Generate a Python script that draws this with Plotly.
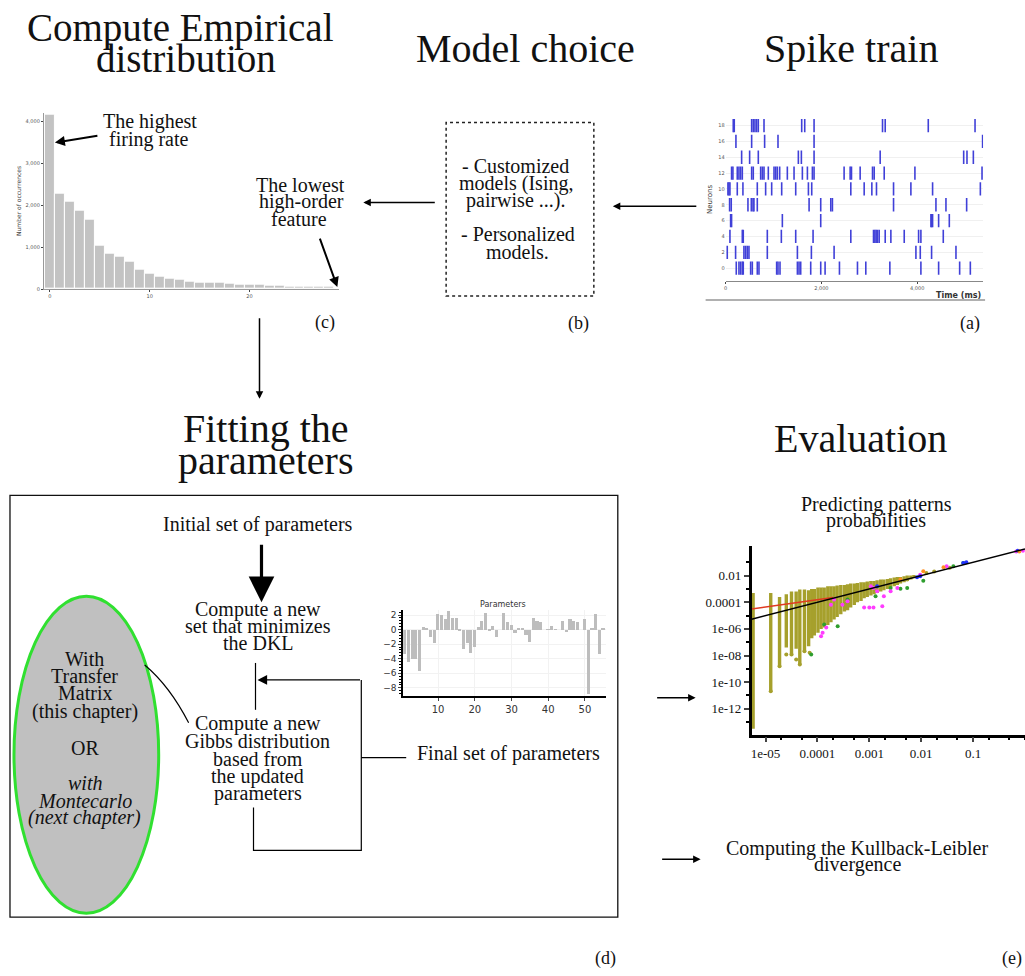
import plotly.graph_objects as go

W, H = 1025, 976
SERIF = "Liberation Serif"
SANS = "DejaVu Sans"

# ---------------- data ----------------
# (c) empirical distribution: number of occurrences per feature rank
feature_rank = list(range(29))
occurrences = [4160, 2270, 2100, 1870, 1660, 1040, 840, 780, 660, 460,
               380, 300, 260, 230, 180, 160, 150, 145, 140, 110,
               110, 100, 90, 75, 70, 65, 60, 60, 55]

# (a) spike train: spike times (ms) per neuron row, bottom row first
neuron_labels = ["0", "2", "4", "6", "8", "10", "12", "14", "16", "18"]
spikes_n0 = [223, 279, 314, 349, 369, 523, 558, 662, 697, 1066, 1094, 1136, 1499, 1533, 1568,
             1777, 1986, 2077, 2377, 2753, 2927, 3429, 4077, 4447, 4886, 5109]
spikes_n1 = [35, 209, 383, 418, 453, 488, 871, 1499, 1791, 2265, 3973, 4064, 4300, 4809]
spikes_n2 = [91, 349, 369, 871, 1164, 1464, 1826, 2614, 3088, 3116, 3143, 3171, 3206, 3332,
             3450, 3729, 4029, 4077, 4544]
spikes_n3 = [105, 125, 1185, 1986, 4287, 4301, 4321, 4447, 4670]
spikes_n4 = [84, 118, 467, 537, 572, 592, 662, 1743, 1986, 2196, 2230, 3506, 4391, 4600, 5032]
spikes_n5 = [49, 70, 91, 244, 362, 662, 836, 962, 1171, 1464, 1729, 1798, 2614, 2893, 3053,
             3150, 3506, 3868, 4321, 5318]
spikes_n6 = [125, 153, 244, 279, 314, 349, 544, 578, 732, 767, 802, 892, 1011, 1046, 1080,
             1129, 1289, 1429, 1603, 1708, 1812, 1847, 2474, 2600, 2628, 2809, 3067, 3102,
             3311, 3952, 5353]
spikes_n7 = [335, 502, 683, 1519, 1582, 1847, 3227, 4970, 5039, 5172]
spikes_n8 = [216, 544, 815, 1094, 1847, 5365]
spikes_n9 = [160, 181, 544, 578, 613, 648, 683, 802, 1589, 1652, 1847, 3276, 3332, 4231, 5207]

# (d) fitted parameter values
param_index = list(range(1, 56))
param_values = [-3.4, -4.5, -4.1, -4.1, -5.7, 0.3, 0.2, -1.0, -1.8, 2.1,
                2.0, 1.4, 2.5, 1.6, 1.6, -0.1, -2.7, -1.8, -3.2, -2.4,
                0.4, 1.2, 2.3, -0.2, 0.5, -1.0, 0.0, 2.2, 1.0, 0.6,
                -0.5, 0.2, 0.2, -0.7, -1.7, 1.6, 1.2, 1.0, 0.0, -0.05,
                0.5, 0.05, 0.0, 1.2, -0.4, 1.4, 1.2, 1.0, 0.0, 1.4,
                -8.8, 0.15, 2.1, -3.3, 0.2]

# (e) predicted vs empirical pattern probabilities (log10 units)
col_logx = [-5.24, -4.90, -4.73, -4.60, -4.50, -4.41, -4.34, -4.25, -4.17, -4.11,
            -4.06, -3.99, -3.93, -3.87, -3.80, -3.74, -3.68, -3.62, -3.55, -3.48,
            -3.42, -3.36, -3.29, -3.23, -3.16, -3.10, -3.04, -2.97, -2.91, -2.85,
            -2.78, -2.72, -2.65, -2.59, -2.52, -2.46, -2.40, -2.33, -2.27, -2.20, -2.14]
col_top = [-3.3, -3.3, -3.6, -3.4, -3.2, -3.2, -3.05, -3.05, -3.1, -3.0,
           -3.0, -2.9, -2.9, -2.9, -2.8, -2.8, -2.8, -2.75, -2.7, -2.7,
           -2.65, -2.6, -2.6, -2.55, -2.5, -2.5, -2.45, -2.4, -2.4, -2.35,
           -2.3, -2.3, -2.25, -2.2, -2.15, -2.1, -2.1, -2.05, -2.0, -2.0, -1.95]
col_bottom = [-13.5, -10.7, -8.8, -7.4, -8.0, -7.5, -8.7, -7.7, -7.3, -6.7,
              -6.5, -6.3, -6.0, -5.9, -5.7, -5.5, -5.3, -5.1, -4.9, -4.7,
              -4.6, -4.4, -4.2, -4.0, -3.9, -3.7, -3.6, -3.5, -3.4, -3.3,
              -3.2, -3.1, -3.0, -2.9, -2.8, -2.7, -2.6, -2.5, -2.4, -2.3, -2.2]
olive_lx = [-4.90, -4.73, -4.60, -4.50, -4.41, -4.34, -4.25, -4.15, -2.27, -1.90, -1.75, -1.45]
olive_ly = [-10.68, -8.8, -7.93, -7.93, -8.3, -8.68, -7.68, -7.8, -2.3, -1.8, -1.7, -1.4]
magenta_lx = [-3.74, -3.68, -3.90, -3.93, -3.83, -2.97, -2.92, -2.85, -3.10, -3.00, -2.92,
              -2.75, -2.72, -2.02, -1.51, -0.17, -0.04, -3.52, -3.42, -2.59, -2.46]
magenta_ly = [-4.18, -3.80, -6.30, -6.55, -5.90, -2.80, -2.93, -3.18, -4.40, -4.40, -4.40,
              -4.30, -3.55, -1.93, -1.30, -0.18, -0.13, -4.18, -3.93, -3.18, -2.93]
green_lx = [-4.12, -3.61, -3.42, -2.59, -2.40, -2.27, -1.96, -1.38, -1.19, -2.88, -3.87]
green_ly = [-7.93, -5.80, -3.80, -2.93, -2.98, -2.93, -2.38, -1.30, -1.05, -3.55, -5.68]
blue_lx = [-2.02, -1.19, -1.13, -2.85, -2.08, -0.14]
blue_ly = [-2.05, -1.05, -1.00, -2.80, -2.12, -0.13]
orange_lx = [-1.96, -1.57, -2.40, -0.11]
orange_ly = [-1.68, -1.38, -2.30, -0.18]
identity_lx = [-5.27, 0.0]
bound_lx = [-5.27, -3.70]
bound_ly = [-4.51, -3.64]


def pw(v):
    return [10 ** a for a in v]


def X(x):
    return x / W


def Y(y):
    return 1 - y / H


fig = go.Figure()

# histogram of occurrences
fig.add_trace(go.Bar(x=feature_rank, y=occurrences, width=1, xaxis="x", yaxis="y",
                     marker=dict(color="#c3c3c3", line=dict(color="white", width=1))))

# raster plot
rows = [spikes_n0, spikes_n1, spikes_n2, spikes_n3, spikes_n4,
        spikes_n5, spikes_n6, spikes_n7, spikes_n8, spikes_n9]
sx, sy = [], []
for i, times in enumerate(rows):
    for t in times:
        sx += [t, t, None]
        sy += [i - 0.42, i + 0.42, None]
fig.add_trace(go.Scatter(x=sx, y=sy, mode="lines", xaxis="x2", yaxis="y2",
                         line=dict(color="#4040d8", width=1.6)))

# parameter bars
fig.add_trace(go.Bar(x=param_index, y=param_values, xaxis="x3", yaxis="y3", width=0.85,
                     marker=dict(color="#bdbdbd", line=dict(width=0))))

# probability scatter: vertical columns of patterns sharing one empirical value
cx, cy = [], []
for lx, top, bot in zip(col_logx, col_top, col_bottom):
    cx += [10 ** lx, 10 ** lx, None]
    cy += [10 ** top, 10 ** bot, None]
fig.add_trace(go.Scatter(x=cx, y=cy, mode="lines", xaxis="x4", yaxis="y4",
                         line=dict(color="#a6a02c", width=3.4)))
fig.add_trace(go.Scatter(x=pw(olive_lx), y=pw(olive_ly), mode="markers", xaxis="x4", yaxis="y4",
                         marker=dict(color="#a6a02c", size=4)))
fig.add_trace(go.Scatter(x=pw(green_lx), y=pw(green_ly), mode="markers", xaxis="x4", yaxis="y4",
                         marker=dict(color="#2e9e2e", size=4)))
fig.add_trace(go.Scatter(x=pw(magenta_lx), y=pw(magenta_ly), mode="markers", xaxis="x4", yaxis="y4",
                         marker=dict(color="#ff3cff", size=4)))
fig.add_trace(go.Scatter(x=pw(blue_lx), y=pw(blue_ly), mode="markers", xaxis="x4", yaxis="y4",
                         marker=dict(color="#2030ff", size=4)))
fig.add_trace(go.Scatter(x=pw(orange_lx), y=pw(orange_ly), mode="markers", xaxis="x4", yaxis="y4",
                         marker=dict(color="#ff9020", size=4)))
fig.add_trace(go.Scatter(x=pw(bound_lx), y=pw(bound_ly), mode="lines", xaxis="x4", yaxis="y4",
                         line=dict(color="#e03a20", width=1.5)))
fig.add_trace(go.Scatter(x=pw(identity_lx), y=pw(identity_lx), mode="lines", xaxis="x4", yaxis="y4",
                         line=dict(color="black", width=1.5)))

# ---------------- annotations & shapes ----------------
ann = []


def text(s, x, base, size=20, family=SERIF, color="#111", italic=False):
    if italic:
        s = "<i>" + s + "</i>"
    ann.append(dict(text=s, x=X(x), y=Y(base - 0.34 * size), xref="paper", yref="paper",
                    xanchor="center", yanchor="middle", showarrow=False, borderpad=0,
                    font=dict(family=family, size=size, color=color)))


def arrow(hx, hy, tx, ty, width=1.5, size=1.0, head=2):
    ann.append(dict(text="", x=X(hx), y=Y(hy), xref="paper", yref="paper",
                    ax=tx - hx, ay=ty - hy, axref="pixel", ayref="pixel",
                    showarrow=True, arrowhead=head, arrowsize=size, arrowwidth=width,
                    arrowcolor="black", standoff=0, startstandoff=0))


shapes = []


def seg(pts, color="black", width=1.2, dash="solid"):
    d = "M " + " L ".join(f"{X(a):.5f},{Y(b):.5f}" for a, b in pts)
    shapes.append(dict(type="path", path=d, xref="paper", yref="paper",
                       line=dict(color=color, width=width, dash=dash)))


# section titles
text("Compute Empirical", 179, 41, 39)
text("distribution", 184, 72, 39)
text("Model choice", 525, 62, 40)
text("Spike train", 851, 62, 40)
text("Fitting the", 265, 443, 40)
text("parameters", 264, 476, 40)
text("Evaluation", 860, 453, 40)

# histogram notes
text("The highest", 148, 129)
text("firing rate", 147, 147)
arrow(53, 143, 97, 136, width=2)
text("The lowest", 299, 192)
text("high-order", 300, 209)
text("feature", 298, 226)
arrow(336, 288, 318, 238, width=2)
text("(c)", 324, 330, 18)

# model choice box
shapes.append(dict(type="rect", xref="paper", yref="paper", x0=X(445), x1=X(593), y0=Y(297), y1=Y(123),
                   line=dict(color="#222", width=1.5, dash="dot")))
text("- Customized", 515, 173)
text("models (Ising,", 515, 191)
text("pairwise ...).", 515, 208)
text("- Personalized", 517, 242)
text("models.", 517, 260)
text("(b)", 578, 331, 18)
arrow(362, 203, 435, 203, width=1.5)
arrow(612, 207, 697, 207, width=1.5)

# spike train extras
seg([(705, 301), (985, 301)], color="#b0b0b0", width=2)
ann.append(dict(text="<b>Time (ms)</b>", x=X(983), y=Y(296), xref="paper", yref="paper",
                xanchor="right", yanchor="middle", showarrow=False,
                font=dict(family=SANS, size=8, color="#333")))
text("(a)", 970, 331, 18)

# down arrow to fitting
arrow(258, 400, 258, 318, width=1.5)

# fitting box
shapes.append(dict(type="rect", xref="paper", yref="paper", x0=X(8), x1=X(617), y0=Y(920), y1=Y(497),
                   line=dict(color="#111", width=1.3)))
text("Initial set of parameters", 256, 533)
arrow(260, 604, 260, 545, width=3.2, size=1.6)
text("Compute a new", 257, 618)
text("set that minimizes", 257, 635)
text("the DKL", 257, 652)
seg([(254, 665), (254, 712)])
seg([(360, 682), (360, 853), (252, 853), (252, 810)])
arrow(256, 682, 360, 682, width=1.2, size=1.6)
text("Compute a new", 256, 733)
text("Gibbs distribution", 256, 750)
text("based from", 256, 768)
text("the updated", 256, 786)
text("parameters", 256, 803)
seg([(360, 760), (405, 760)])
text("Final set of parameters", 507, 763)

# ellipse with solver options
shapes.append(dict(type="circle", xref="paper", yref="paper", x0=X(12), x1=X(157), y0=Y(916), y1=Y(598),
                   fillcolor="#c0c0c0", line=dict(color="#30e030", width=3), layer="below"))
shapes.append(dict(type="path", xref="paper", yref="paper",
                   path=f"M {X(143):.5f},{Y(667):.5f} Q {X(168):.5f},{Y(688):.5f} {X(187):.5f},{Y(725):.5f}",
                   line=dict(color="black", width=1.2)))
text("With", 83, 668)
text("Transfer", 83, 685)
text("Matrix", 83, 702)
text("(this chapter)", 83, 720)
text("OR", 83, 757)
text("with", 83, 792, italic=True)
text("Montecarlo", 83, 810, italic=True)
text("(next chapter)", 83, 827, italic=True)
ann.append(dict(text="Parameters", x=X(502), y=Y(606), xref="paper", yref="paper",
                xanchor="center", yanchor="middle", showarrow=False,
                font=dict(family=SANS, size=8, color="#333")))

# evaluation notes
text("Predicting patterns", 876, 513)
text("probabilities", 876, 529)
arrow(695, 700, 655, 700, width=1.5)
arrow(700, 862, 660, 862, width=1.5)
text("Computing the Kullback-Leibler", 857, 858)
text("divergence", 857, 874)
text("(d)", 605, 968, 18)
text("(e)", 1012, 968, 18)

tiny = dict(family=SANS, size=5, color="#555")

fig.update_layout(
    width=W, height=H, margin=dict(l=0, r=0, t=0, b=0),
    paper_bgcolor="white", plot_bgcolor="white", showlegend=False,
    annotations=ann, shapes=shapes, bargap=0,
    xaxis=dict(domain=[X(42), X(338)], range=[-0.6, 29], anchor="y",
               tickvals=[0, 10, 20], tickfont=tiny, ticks="outside", ticklen=2,
               showline=True, linecolor="#999", showgrid=False, zeroline=False),
    yaxis=dict(domain=[Y(290), Y(113)], range=[0, 4214], anchor="x",
               tickvals=[0, 1000, 2000, 3000, 4000], ticktext=["0", "1,000", "2,000", "3,000", "4,000"],
               tickfont=tiny, ticks="outside", ticklen=2, showline=True, linecolor="#999",
               showgrid=False, zeroline=False,
               title=dict(text="Number of occurrences", font=dict(family=SANS, size=6, color="#444"),
                          standoff=3)),
    xaxis2=dict(domain=[X(725), X(983)], range=[0, 5375], anchor="y2",
                tickvals=[0, 2000, 4000], ticktext=["0", "2,000", "4,000"], tickfont=tiny,
                ticks="outside", ticklen=2, showline=True, linecolor="#888",
                showgrid=False, zeroline=False),
    yaxis2=dict(domain=[Y(282), Y(118)], range=[-0.82, 9.5], anchor="x2",
                tickvals=list(range(10)), ticktext=neuron_labels, tickfont=tiny,
                showgrid=True, gridcolor="#f0f0f0", zeroline=False, showline=False,
                title=dict(text="Neurons", font=dict(family=SANS, size=7, color="#333"), standoff=4)),
    xaxis3=dict(domain=[X(402), X(605)], range=[0.5, 55.7], anchor="y3",
                tickvals=[10, 20, 30, 40, 50], tickfont=dict(family=SANS, size=10, color="#333"),
                ticks="outside", ticklen=3, showline=True, linecolor="black", linewidth=2,
                showgrid=True, gridcolor="#f2f2f2", zeroline=False),
    yaxis3=dict(domain=[Y(698), Y(612)], range=[-9.1, 2.68], anchor="x3",
                tickvals=[2, 0, -2, -4, -6, -8], tickfont=dict(family=SANS, size=9, color="#333"),
                ticks="outside", ticklen=3, showline=True, linecolor="black", linewidth=2,
                minor=dict(dtick=0.4, ticks="outside", ticklen=2, tickcolor="black"),
                showgrid=True, gridcolor="#f2f2f2", zeroline=False),
    xaxis4=dict(type="log", domain=[X(751), 1.0], range=[-5.27, 0.0], anchor="y4",
                tickvals=[1e-5, 1e-4, 1e-3, 1e-2, 1e-1],
                ticktext=["1e-05", "0.0001", "0.001", "0.01", "0.1"],
                tickfont=dict(family=SERIF, size=13, color="#111"),
                ticks="outside", ticklen=5, tickwidth=1.5, showline=True, linecolor="black", linewidth=2.5,
                minor=dict(ticks="outside", ticklen=3, tickcolor="black"),
                showgrid=False, zeroline=False),
    yaxis4=dict(type="log", domain=[Y(737), Y(548)], range=[-13.95, 0.2], anchor="x4",
                tickvals=[1e-2, 1e-4, 1e-6, 1e-8, 1e-10, 1e-12],
                ticktext=["0.01", "0.0001", "1e-06", "1e-08", "1e-10", "1e-12"],
                tickfont=dict(family=SERIF, size=13, color="#111"),
                ticks="outside", ticklen=5, tickwidth=1.5, showline=True, linecolor="black", linewidth=2.5,
                minor=dict(tickvals=[1e-1, 1e-3, 1e-5, 1e-7, 1e-9, 1e-11, 1e-13],
                           ticks="outside", ticklen=3, tickcolor="black"),
                showgrid=False, zeroline=False),
)

fig.write_html("out.html")
